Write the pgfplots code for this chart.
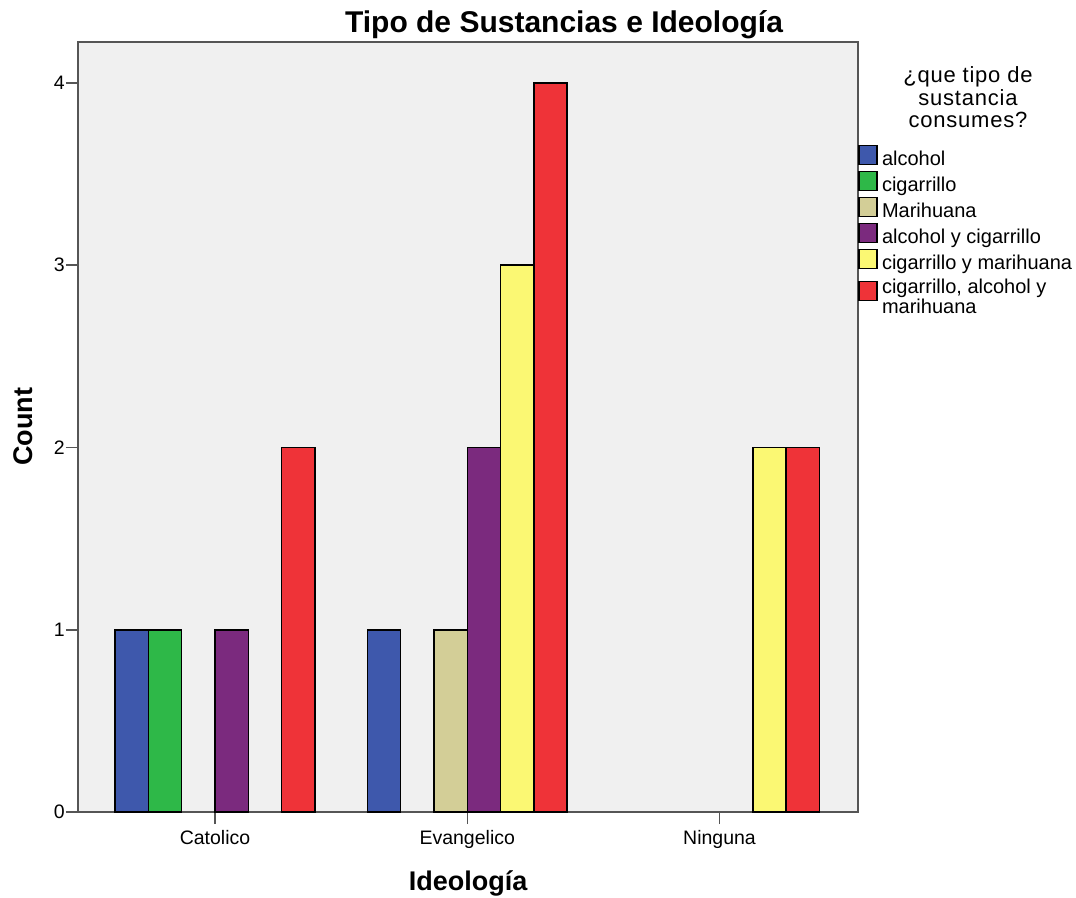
\documentclass[border=0pt]{standalone}
\usepackage{pgfplots}
\pgfplotsset{compat=1.18}
\usepackage{fontspec}
\setmainfont{Liberation Sans}
\newfontfamily\legtitlefont[LetterSpace=3.5]{Liberation Sans}
\definecolor{cA}{HTML}{3E58AC}
\definecolor{cB}{HTML}{2EB848}
\definecolor{cC}{HTML}{D3CE97}
\definecolor{cD}{HTML}{7B2A7E}
\definecolor{cE}{HTML}{FBF873}
\definecolor{cF}{HTML}{EF3338}
\definecolor{bgc}{HTML}{F0F0F0}
\definecolor{axc}{HTML}{555555}
\begin{document}
\begin{tikzpicture}[x=1pt,y=1pt]
\useasboundingbox (0,0) rectangle (1076,897);
\begin{axis}[
  at={(78pt,85pt)}, anchor=south west,
  scale only axis, width=780pt, height=770pt,
  xmin=-0.543, xmax=2.549, ymin=0, ymax=4.225,
  axis background/.style={fill=bgc},
  axis line style={draw=axc, line width=2pt},
  xtick={0,1,2}, xticklabels={Catolico,Evangelico,Ninguna},
  ytick={0,1,2,3,4},
  xtick pos=bottom, ytick pos=left,
  tick align=outside, major tick length=12pt,
  tick style={draw=axc, line width=1.5pt},
  ticklabel style={font=\fontsize{19.5}{22}\selectfont},
  yticklabel style={inner sep=1pt},
  xticklabel style={anchor=base, yshift=-20pt},
  /pgf/number format/assume math mode=true,
  ybar, bar width=33.3pt,
  every axis plot/.append style={draw=black, line width=1.5pt},
  legend cell align=left,
  legend style={at={(1,0.8666)}, anchor=north west, draw=none, fill=none,
    inner sep=0pt, outer sep=0pt, row sep=2pt, column sep=2.5pt,
    font=\fontsize{20}{17.5}\selectfont,
    cells={text height=17pt, text depth=5pt}},
  legend image code/.code={\draw[#1,line width=1.5pt] (0pt,-7pt) rectangle (18pt,12pt);},
]
\addplot[fill=cA, bar shift=-83.25pt] coordinates {(0,1) (1,1)};
\addlegendentry{alcohol}
\addplot[fill=cB, bar shift=-49.95pt] coordinates {(0,1)};
\addlegendentry{cigarrillo}
\addplot[fill=cC, bar shift=-16.65pt] coordinates {(1,1)};
\addlegendentry{Marihuana}
\addplot[fill=cD, bar shift=16.65pt] coordinates {(0,1) (1,2)};
\addlegendentry{alcohol y cigarrillo}
\addplot[fill=cE, bar shift=49.95pt] coordinates {(1,3) (2,2)};
\addlegendentry{cigarrillo y marihuana}
\addplot[fill=cF, bar shift=83.25pt, legend image post style={yshift=-7.5pt}] coordinates {(0,2) (1,4) (2,2)};
\addlegendentry{\begin{tabular}[t]{@{}l@{}}cigarrillo, alcohol y\\marihuana\end{tabular}}
\end{axis}
\node[anchor=base, font=\fontsize{30}{32}\selectfont\bfseries] at (564,864) {Tipo de Sustancias e Ideología};
\node[anchor=base, rotate=90, font=\fontsize{27}{30}\selectfont\bfseries] at (32,470) {Count};
\node[anchor=base, font=\fontsize{27}{30}\selectfont\bfseries] at (468,7) {Ideología};
\begin{scope}[every node/.style={anchor=base, inner sep=0pt, font=\legtitlefont\fontsize{22}{22}\selectfont}]
\node at (968,814) {¿que tipo de};
\node at (968,791) {sustancia};
\node at (968,769) {consumes?};
\end{scope}
\end{tikzpicture}
\end{document}
